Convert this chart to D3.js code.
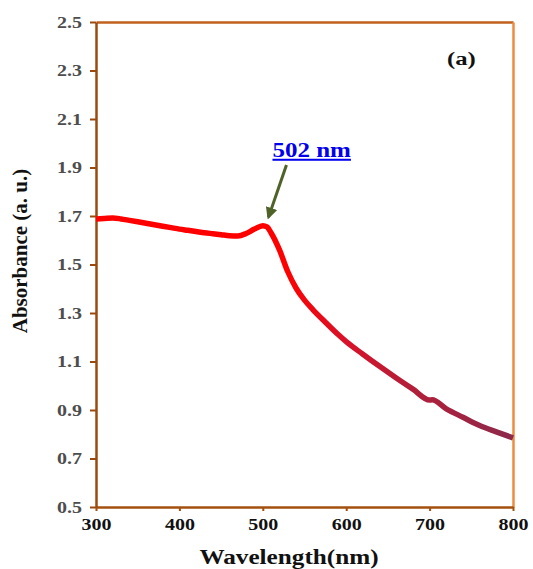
<!DOCTYPE html>
<html>
<head>
<meta charset="utf-8">
<script src="https://cdn.jsdelivr.net/npm/d3@7"></script>
<style>
  body { margin: 0; background: #fff; }
  text { font-family: "Liberation Serif", "Times New Roman", serif; font-weight: bold; }
</style>
</head>
<body>
<div id="chart"></div>
<script>
// spectrum
const wavelength = [300, 310, 320, 330, 340, 350, 360, 370, 380, 390, 400, 410, 420, 430, 440, 450,
    460, 470, 480, 490, 500, 505, 510, 520, 530, 540, 550, 560, 575, 590, 600, 620, 640, 660, 680,
    700, 703, 720, 740, 760, 780, 800];
const absorbance = [1.688, 1.69, 1.692, 1.688, 1.682, 1.676, 1.67, 1.664, 1.658, 1.652, 1.646, 1.641,
    1.636, 1.631, 1.627, 1.623, 1.619, 1.618, 1.628, 1.646, 1.66, 1.655, 1.63, 1.56, 1.47, 1.402,
    1.353, 1.314, 1.262, 1.212, 1.182, 1.13, 1.08, 1.032, 0.986, 0.941, 0.942, 0.905, 0.87, 0.836,
    0.81, 0.785];
const xTicks = [300, 400, 500, 600, 700, 800];
const yTicks = [0.5, 0.7, 0.9, 1.1, 1.3, 1.5, 1.7, 1.9, 2.1, 2.3, 2.5];
const peak = { wl: 502, label: '502 nm' };

const width = 533;
const height = 569;
const margin = { top: 22, right: 20, bottom: 62, left: 96 };

const svg = d3.select('#chart')
    .append('svg')
    .attr('width', width)
    .attr('height', height);

const x = d3.scaleLinear()
    .domain([300, 800])
    .range([margin.left, width - margin.right]);

const y = d3.scaleLinear()
    .domain([0.5, 2.5])
    .range([height - margin.bottom, margin.top]);

const data = wavelength.map((w, i) => ({ w: w, a: absorbance[i] }));

// the original text is a bit stretched sideways
const stretch = 1.25;

// colour fades from red to maroon along the curve
const grad = svg.append('defs').append('linearGradient')
    .attr('id', 'lineGrad')
    .attr('gradientUnits', 'userSpaceOnUse')
    .attr('x1', x(300)).attr('x2', x(800))
    .attr('y1', 0).attr('y2', 0);
[[0, '#ff0000'], [0.45, '#ff0000'], [0.6, '#d8122a'], [0.75, '#b41e38'], [1, '#8c2a4c']]
    .forEach(s => grad.append('stop').attr('offset', s[0]).attr('stop-color', s[1]));

// frame
svg.append('g')
    .attr('transform', `translate(0,${margin.top})`)
    .call(d3.axisTop(x).tickValues([]).tickSizeOuter(0))
    .select('.domain').attr('stroke', '#c1611d').attr('stroke-width', 2.5);

svg.append('g')
    .attr('transform', `translate(${width - margin.right},0)`)
    .call(d3.axisRight(y).tickValues([]).tickSizeOuter(0))
    .select('.domain').attr('stroke', '#ec8c3c').attr('stroke-width', 2.5);

let xAxis = (g) => {
    g.attr('transform', `translate(0,${height - margin.bottom})`)
        .call(d3.axisBottom(x).tickValues(xTicks).tickSize(4).tickSizeOuter(0).tickPadding(8));
    g.select('.domain').attr('stroke', '#a4500f').attr('stroke-width', 2.5);
    g.selectAll('.tick line').attr('stroke', '#a4500f').attr('stroke-width', 2);
    g.selectAll('.tick text')
        .attr('font-size', '16px')
        .attr('fill', '#111')
        .attr('transform', `scale(${stretch},1)`);
};

let yAxis = (g) => {
    g.attr('transform', `translate(${margin.left},0)`)
        .call(d3.axisLeft(y).tickValues(yTicks).tickSize(6).tickSizeOuter(0).tickPadding(9)
            .tickFormat(d3.format('.1f')));
    g.select('.domain').attr('stroke', '#9a4a0e').attr('stroke-width', 2.5);
    g.selectAll('.tick line').attr('stroke', '#9a4a0e').attr('stroke-width', 2);
    g.selectAll('.tick text')
        .attr('font-size', '16px')
        .attr('fill', '#4d4d4d')
        .attr('x', -14 / stretch)
        .attr('transform', `scale(${stretch},1)`);
};

svg.append('g').call(xAxis);
svg.append('g').call(yAxis);

// spectrum line
svg.append('path')
    .datum(data)
    .attr('fill', 'none')
    .attr('stroke', 'url(#lineGrad)')
    .attr('stroke-width', 5.5)
    .attr('stroke-linejoin', 'round')
    .attr('d', d3.line().x(d => x(d.w)).y(d => y(d.a)).curve(d3.curveMonotoneX));

// peak annotation
svg.append('defs').append('marker')
    .attr('id', 'arrow')
    .attr('viewBox', '0 0 10 10')
    .attr('refX', 8).attr('refY', 5)
    .attr('markerWidth', 4).attr('markerHeight', 4)
    .attr('orient', 'auto')
    .append('path')
    .attr('d', 'M0,0L10,5L0,10z')
    .attr('fill', '#4f6228');

svg.append('line')
    .attr('x1', x(peak.wl) + 22).attr('y1', y(1.91))
    .attr('x2', x(peak.wl) + 4).attr('y2', y(1.695))
    .attr('stroke', '#4f6228')
    .attr('stroke-width', 3)
    .attr('marker-end', 'url(#arrow)');

svg.append('text')
    .attr('transform', `translate(${x(peak.wl) + 8},157) scale(${stretch},1)`)
    .attr('font-size', '20px')
    .attr('fill', '#0000ee')
    .attr('text-decoration', 'underline')
    .text(peak.label);

svg.append('text')
    .attr('transform', `translate(447,65) scale(1.3,1)`)
    .attr('font-size', '19px')
    .attr('fill', '#111')
    .text('(a)');

// axis titles
svg.append('text')
    .attr('transform', `translate(289,564) scale(1.2,1)`)
    .attr('text-anchor', 'middle')
    .attr('font-size', '21px')
    .attr('fill', '#111')
    .text('Wavelength(nm)');

svg.append('text')
    .attr('transform', `translate(27,251) rotate(-90)`)
    .attr('text-anchor', 'middle')
    .attr('font-size', '21px')
    .attr('fill', '#111')
    .text('Absorbance (a. u.)');
</script>
</body>
</html>
